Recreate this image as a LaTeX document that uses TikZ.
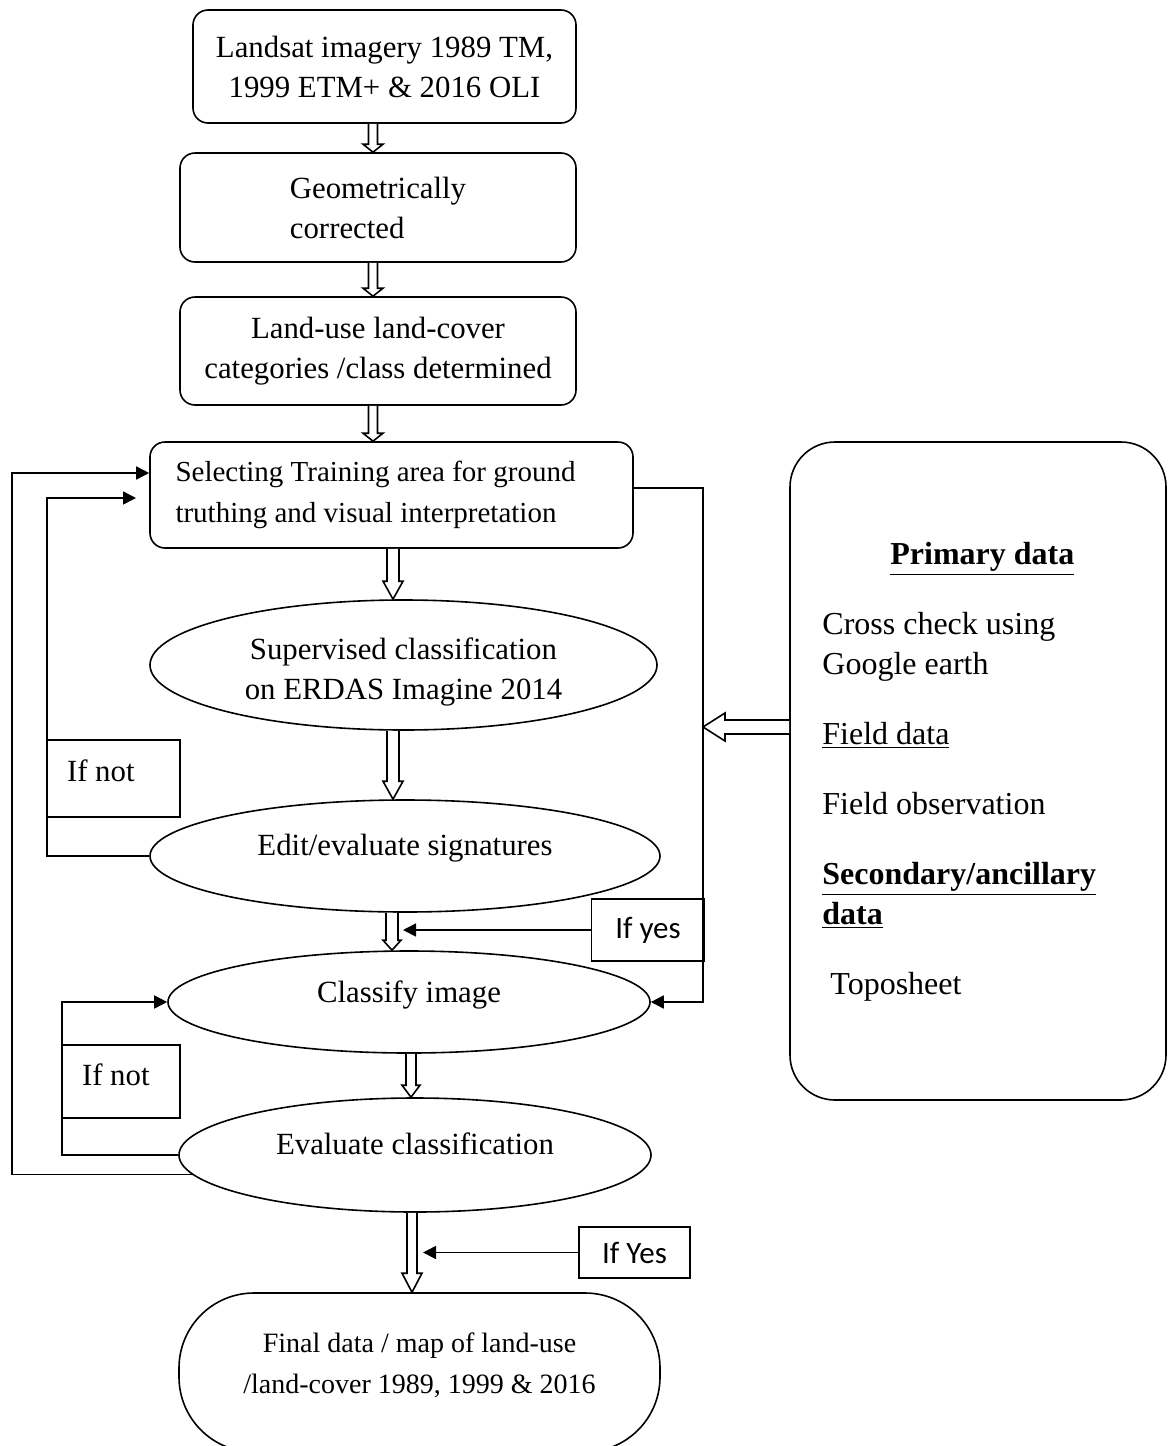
\documentclass[tikz,border=0pt]{standalone}
\usepackage{fontspec}
\setmainfont{Liberation Serif}
\newfontfamily\calibri{Carlito}
\usetikzlibrary{shapes.geometric,arrows.meta,calc}

\tikzset{
  procbox/.style={draw,thick,rounded corners=7.5pt,align=center,inner sep=2pt},
  procoval/.style={draw,thick,ellipse,align=center,inner sep=0pt},
  notbox/.style={draw,thick,align=flush left,inner xsep=10pt},
  ifbox/.style={draw,thick,font=\calibri\fontsize{15.5}{18}\selectfont},
  flow/.style={thick,-{Triangle[length=6.5pt,width=6.5pt]}},
}

% hollow block arrow going down: x, from node, to node, half shaft, half head, head length
\newcommand{\hollowdown}[6]{%
  \coordinate (ht) at (#1,0 |- #2.south);
  \coordinate (hb) at (#1,0 |- #3.north);
  \draw[thick,fill=white] ($(ht)+(-#4,0)$) -- ($(hb)+(-#4,-#6)$) -- ($(hb)+(-#5,-#6)$) -- (hb)
    -- ($(hb)+(#5,-#6)$) -- ($(hb)+(#4,-#6)$) -- ($(ht)+(#4,0)$);
}

\begin{document}
\begin{tikzpicture}[x=0.5pt,y=-0.5pt,every node/.style={font=\fontsize{15.4}{20}\selectfont}]
  \useasboundingbox (0,0) rectangle (1168,1446);
  \clip (0,0) rectangle (1168,1446);

  % main chain
  \node[procbox,minimum width=191.5pt,minimum height=56.5pt] (land) at (384.5,66.5)
    {Landsat imagery 1989 TM,\\1999 ETM+ \& 2016 OLI};
  \node[procbox,minimum width=198pt,minimum height=54.5pt,align=flush left] (geo) at (378,207.5)
    {Geometrically\\corrected};
  \node[procbox,minimum width=198pt,minimum height=54pt] (cat) at (378,351)
    {Land-use land-cover\\categories /class determined};
  \node[procbox,minimum height=53pt,align=flush left,text width=216pt,inner xsep=12.75pt,
    font=\fontsize{14.5}{20.5}\selectfont] (sel) at (391.5,495)
    {Selecting Training area for ground\\truthing and visual interpretation};
  \node[procoval,minimum width=253.5pt,minimum height=65pt,text height=38pt] (sup) at (403.5,665)
    {Supervised classification\\on ERDAS Imagine 2014};
  \node[procoval,minimum width=255pt,minimum height=56pt,text depth=11.5pt] (edit) at (405,856)
    {Edit/evaluate signatures};
  \node[procoval,minimum width=241pt,minimum height=51pt,text depth=10.5pt] (cls) at (409,1002)
    {Classify image};
  \node[procoval,minimum width=236pt,minimum height=57pt,text depth=11pt] (eval) at (415,1155)
    {Evaluate classification};
  \node[procbox,rounded corners=37.5pt,minimum width=240.5pt,minimum height=79.5pt,text depth=9.5pt,
    font=\fontsize{14}{20.5}\selectfont] (final) at (419.5,1372.5)
    {Final data / map of land-use\\/land-cover 1989, 1999 \& 2016};

  % data sources
  \node[draw,thick,rounded corners=22.5pt,minimum width=188pt,minimum height=329pt] (src) at (978,771) {};
  \node[anchor=north west,align=flush left,text width=160pt,inner sep=0pt,
    font=\fontsize{16}{20}\selectfont] (srctext) at (822,542)
    {\makebox[160pt]{\textbf{\underline{Primary data}}}\\[15pt]
     Cross check using\\Google earth\\[15pt]
     \underline{Field data}\\[15pt]
     Field observation\\[15pt]
     \textbf{\underline{Secondary/ancillary}}\\\textbf{\underline{data}}\\[15pt]
     \hspace*{4pt}Toposheet};

  % decisions
  \node[notbox,minimum width=66.5pt,minimum height=38.5pt,text width=46.5pt,text depth=7.5pt] (not1) at (113.5,778.5) {If not};
  \node[notbox,minimum width=59pt,minimum height=36.5pt,text width=39pt,text depth=6.5pt] (not2) at (121,1081.5) {If not};
  \node[ifbox,minimum width=56.5pt,minimum height=31pt] (yes1) at (648,930) {If yes};
  \node[ifbox,minimum width=55.5pt,minimum height=25.5pt] (yes2) at (634.5,1252.5) {If Yes};

  % loops back
  \draw[flow] (eval.185) -| (12,473) -- (sel.west |- 0,473);
  \draw[flow] (edit.west) -| (47,498) -- ++(89,0);
  \draw[flow] (eval.west) -| (62,0 |- cls.west) -- (cls.west);
  \draw[flow] (sel.east |- 0,488) -| (703,0 |- cls.east) -- (cls.east);
  \draw[flow] (yes1.west) -- (403,0 |- yes1.west);
  \draw[flow] (yes2.west) -- (423,0 |- yes2.west);

  \draw[thick,fill=white] (src.west |- 0,720) -- (725,720) -- (725,713) -- (703,727)
    -- (725,741) -- (725,734) -- (src.west |- 0,734);

  \hollowdown{373}{land}{geo}{4.5}{10}{8}
  \hollowdown{373}{geo}{cat}{4.5}{10}{8}
  \hollowdown{373}{cat}{sel}{4.5}{10}{8}
  \hollowdown{393}{sel}{sup}{6}{10}{18}
  \hollowdown{393}{sup}{edit}{6}{10}{18}
  \hollowdown{392}{edit}{cls}{6}{9}{10}
  \hollowdown{411}{cls}{eval}{5}{9}{12}
  \hollowdown{412}{eval}{final}{5}{10}{19}
\end{tikzpicture}
\end{document}
